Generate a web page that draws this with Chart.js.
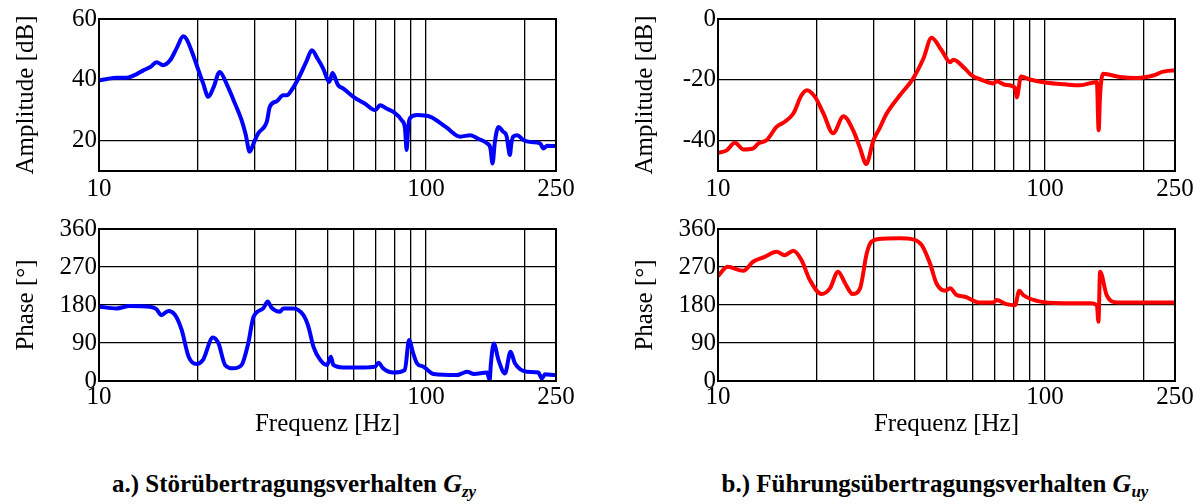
<!DOCTYPE html>
<html>
<head>
<meta charset="utf-8">
<script src="https://cdn.jsdelivr.net/npm/chart.js@4/dist/chart.umd.min.js"></script>
<style>
  html, body { margin: 0; padding: 0; background: #fff; width: 1202px; height: 504px; overflow: hidden; }
  .box { position: absolute; }
  .cap { position: absolute; top: 469px; line-height: 30px; font-family: "Liberation Serif", serif; font-weight: bold; font-size: 25px; color: #000; white-space: nowrap; transform: translateX(-50%); }
  .cap i { font-size: 26px; }
  .cap sub { font-size: 17px; vertical-align: -5px; line-height: 0; }
</style>
</head>
<body>
<div class="box" style="left:0;top:0;"><canvas id="c1" width="601" height="200"></canvas></div>
<div class="box" style="left:619px;top:0;"><canvas id="c2" width="583" height="200"></canvas></div>
<div class="box" style="left:0;top:210px;"><canvas id="c3" width="601" height="230"></canvas></div>
<div class="box" style="left:619px;top:210px;"><canvas id="c4" width="583" height="230"></canvas></div>
<div class="cap" style="left:294px;">a.) Störübertragungsverhalten <i>G<sub>zy</sub></i></div>
<div class="cap" style="left:935px;">b.) Führungsübertragungsverhalten <i>G<sub>uy</sub></i></div>
<script>
// ---- axis ticks ----
const xGridValues = [10, 20, 30, 40, 50, 60, 70, 80, 90, 100, 200, 250];
const xTickLabels = [10, 100, 250];
const ampTicksL = [20, 40, 60];
const ampTicksR = [-40, -20, 0];
const phaseTicks = [0, 90, 180, 270, 360];

// ---- G_zy amplitude ----
const gzyAmpFreq = [10.0, 10.5, 11.3, 12.15, 13.0, 13.66, 14.4, 15.0, 15.7, 16.5, 17.3, 18.1, 18.5, 19.2, 19.9, 20.8, 21.6, 22.4, 23.4, 24.6, 25.8, 27.3, 28.1, 28.9, 29.8, 30.7, 32.6, 33.3, 35.0, 36.6, 37.5, 39.3, 41.2, 43.0, 44.8, 46.6, 48.5, 50.6, 51.8, 53.9, 55.9, 60.0, 65.0, 69.9, 72.4, 76.0, 79.3, 84.3, 86.3, 87.3, 88.3, 89.3, 93.9, 103.3, 115.0, 127.4, 136.8, 145.0, 153.8, 157.5, 159.9, 162.5, 166.7, 172.0, 176.7, 178.5, 180.7, 182.5, 184.9, 190.2, 198.6, 210.0, 223.5, 228.8, 235.0, 246.0, 250.0];
const gzyAmp = [39.8, 40.2, 40.7, 40.7, 41.8, 43.1, 44.3, 45.8, 44.8, 46.4, 50.5, 54.3, 53.5, 49.5, 44.8, 39.0, 34.4, 37.5, 42.6, 38.5, 33.3, 26.7, 22.0, 16.3, 19.5, 22.4, 26.2, 31.1, 33.0, 34.9, 34.9, 37.5, 41.5, 45.8, 49.7, 47.0, 43.7, 39.3, 42.2, 38.2, 37.1, 34.4, 32.2, 30.0, 31.6, 30.5, 29.5, 26.7, 24.0, 16.9, 24.5, 27.3, 28.4, 27.8, 24.5, 21.3, 21.8, 20.5, 19.1, 17.5, 12.5, 19.5, 24.5, 23.0, 21.3, 18.0, 15.3, 19.0, 21.3, 21.8, 20.2, 19.5, 19.1, 17.4, 18.3, 18.2, 18.2];

// ---- G_zy phase ----
const gzyPhaseFreq = [10.0, 11.3, 12.4, 14.3, 15.0, 15.5, 16.3, 17.1, 17.9, 18.8, 19.9, 20.8, 22.3, 23.2, 24.3, 25.7, 27.3, 28.6, 29.7, 31.8, 32.8, 33.7, 35.8, 36.6, 39.3, 42.2, 43.7, 45.3, 47.5, 49.8, 51.2, 52.1, 55.9, 64.3, 69.9, 71.6, 74.0, 79.3, 86.2, 88.8, 91.4, 93.9, 98.3, 105.6, 124.4, 128.9, 133.7, 140.3, 153.8, 156.7, 158.0, 161.3, 166.7, 174.5, 181.5, 187.2, 203.4, 221.0, 226.2, 231.5, 249.0, 250.0];
const gzyPhase = [176, 172, 177.6, 176, 170, 156, 166, 156, 121, 57.6, 40, 50, 103, 89, 38, 30, 38, 89, 152, 172, 188, 174, 164, 172, 172, 156, 129, 81, 50, 38, 57.6, 38, 32, 32, 34, 43, 30, 20, 26, 97, 66, 42, 34, 16.6, 14, 18, 22, 16.6, 20, 2, 40, 89, 50, 18, 69, 42, 22, 20, 6, 16, 14, 14];

// ---- G_uy amplitude ----
const guyAmpFreq = [10.0, 10.6, 11.27, 11.95, 12.8, 13.3, 14.1, 15.1, 16.0, 17.0, 18.0, 18.7, 19.8, 21.0, 22.5, 24.2, 25.9, 27.2, 28.4, 29.9, 31.2, 32.8, 36.0, 39.5, 42.5, 45.0, 48.3, 51.3, 52.5, 56.9, 59.6, 64.0, 69.6, 71.1, 76.0, 81.0, 82.0, 84.5, 89.9, 101.4, 115.0, 127.9, 144.2, 146.0, 147.5, 150.6, 169.9, 190.8, 215.6, 228.6, 246.0, 250.0];
const guyAmp = [-44, -43.3, -40.7, -42.9, -42.6, -40.9, -39.8, -35.5, -33.8, -31.1, -25.1, -23.4, -25.6, -31.0, -37.6, -32, -36.6, -42.5, -47.7, -39.8, -36, -31.1, -25.1, -19.6, -13.0, -6.2, -10.3, -14.2, -13.4, -16.3, -18.5, -20.0, -21.2, -20.5, -21.7, -22.6, -25.8, -18.9, -19.9, -21.0, -21.5, -21.8, -20.7, -36.6, -25.0, -18.0, -19.1, -19.4, -18.5, -17.4, -16.9, -16.9];

// ---- G_uy phase ----
const guyPhaseFreq = [10.0, 10.7, 11.95, 12.8, 13.9, 15.1, 16.0, 17.0, 18.0, 19.1, 20.75, 22.0, 23.3, 24.5, 25.8, 27.2, 28.5, 29.5, 32.0, 36.0, 39.5, 42.0, 44.5, 46.6, 49.5, 51.3, 53.7, 56.9, 63.1, 69.6, 71.1, 76.3, 81.0, 83.5, 85.8, 94.5, 113.9, 137.6, 144.2, 145.8, 147.5, 154.5, 166.5, 205.0, 246.0, 250.0];
const guyPhase = [248.6, 270.6, 261, 282.5, 294, 306, 298, 308.6, 286.5, 239, 206, 219.5, 259, 231, 206, 219.5, 302, 330, 337, 338, 335.5, 322, 278.7, 231, 214, 219.5, 203.6, 199.6, 186, 186, 191.8, 182, 179.6, 214, 203.6, 189.8, 184.3, 184.3, 179.6, 140.4, 259, 203.6, 186, 186, 186, 186];

const SERIF = '"Liberation Serif", "Times New Roman", serif';

const framePlugin = {
  id: 'frame',
  afterDatasetsDraw(chart) {
    const a = chart.chartArea, ctx = chart.ctx;
    ctx.save();
    ctx.strokeStyle = '#000';
    ctx.lineWidth = 2;
    ctx.strokeRect(a.left, a.top, a.right - a.left, a.bottom - a.top);
    ctx.restore();
  }
};

function toPoints(fs, vs) { return fs.map((f, i) => ({ x: f, y: vs[i] })); }

function makeChart(id, fs, vs, color, yMin, yMax, yTicks, yTitle, xTitle, padRight, canvasH, xLabelPad) {
  const plotTop = 19, plotH = 152;
  return new Chart(document.getElementById(id), {
    type: 'line',
    data: { datasets: [{ data: toPoints(fs, vs), borderColor: color, borderWidth: 4, pointRadius: 0, fill: false, cubicInterpolationMode: 'monotone' }] },
    options: {
      responsive: false, animation: false,
      layout: { padding: { top: plotTop, right: padRight, left: 0, bottom: 0 } },
      plugins: { legend: { display: false }, tooltip: { enabled: false } },
      scales: {
        x: {
          type: 'logarithmic', min: 10, max: 250,
          afterBuildTicks: s => { s.ticks = xGridValues.map(v => ({ value: v })); },
          afterFit: s => { s.height = canvasH - plotTop - plotH; },
          ticks: { autoSkip: false, maxRotation: 0, color: '#000', padding: xLabelPad,
                   font: { family: SERIF, size: 25 },
                   callback: v => xTickLabels.includes(v) ? String(v) : '' },
          grid: { color: '#000', lineWidth: 1.3, drawTicks: false },
          border: { color: '#000', width: 2 },
          title: { display: !!xTitle, text: xTitle || '', color: '#000', font: { family: SERIF, size: 25 }, padding: { top: 0, bottom: 1 } }
        },
        y: {
          min: yMin, max: yMax,
          afterBuildTicks: s => { s.ticks = yTicks.map(v => ({ value: v })); },
          afterFit: s => { s.width = 99; },
          ticks: { color: '#000', padding: 2, font: { family: SERIF, size: 25 } },
          grid: { color: '#000', lineWidth: 1.3, drawTicks: false },
          border: { color: '#000', width: 2 },
          title: { display: true, text: yTitle, color: '#000', font: { family: SERIF, size: 25 }, padding: { top: 11, bottom: 0 } }
        }
      }
    },
    plugins: [framePlugin]
  });
}

function build() {
  makeChart('c1', gzyAmpFreq, gzyAmp, '#0000ff', 10, 60, ampTicksL, 'Amplitude [dB]', null, 45, 200, 3);
  makeChart('c2', guyAmpFreq, guyAmp, '#ff0000', -50, 0, ampTicksR, 'Amplitude [dB]', null, 27, 200, 3);
  makeChart('c3', gzyPhaseFreq, gzyPhase, '#0000ff', 0, 360, phaseTicks, 'Phase [°]', 'Frequenz [Hz]', 45, 230, 1);
  makeChart('c4', guyPhaseFreq, guyPhase, '#ff0000', 0, 360, phaseTicks, 'Phase [°]', 'Frequenz [Hz]', 27, 230, 1);
}
if (document.fonts && document.fonts.load) {
  document.fonts.load('25px "Liberation Serif"').then(build, build);
} else { build(); }
</script>
</body>
</html>
